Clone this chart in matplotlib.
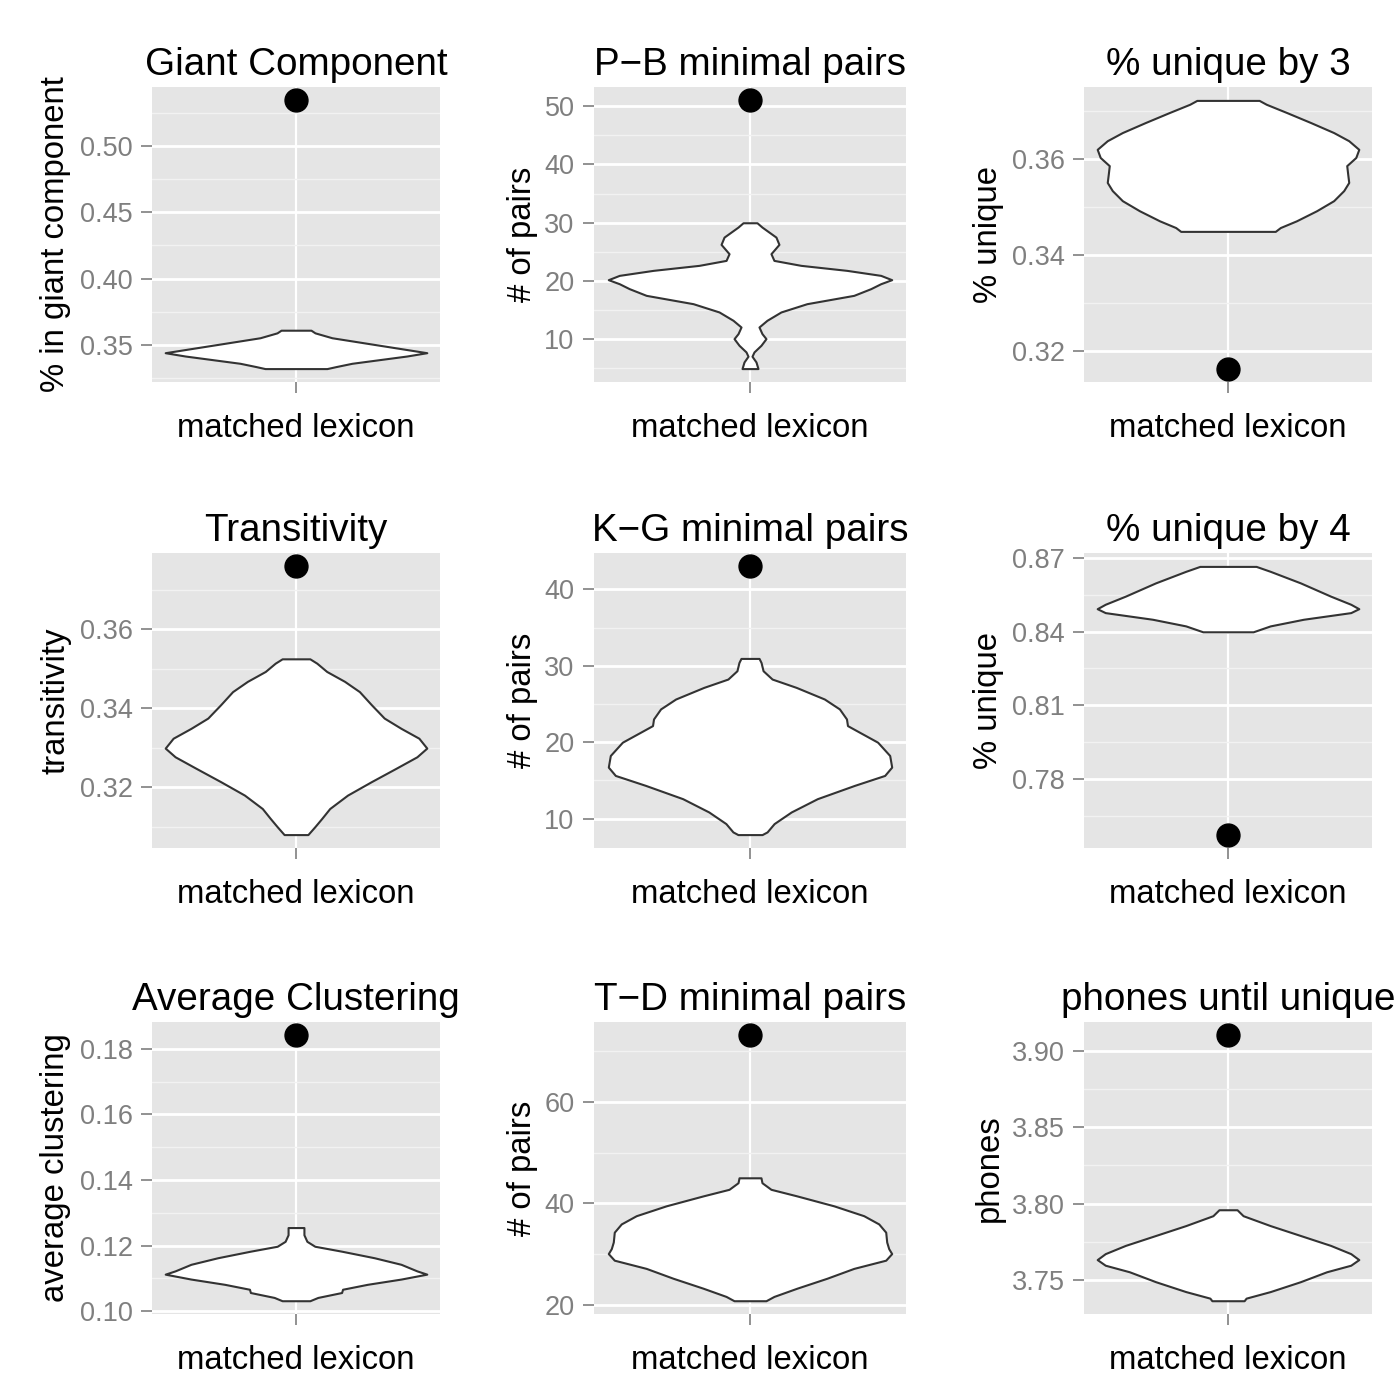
import numpy as np
import matplotlib.pyplot as plt

plt.rcParams['font.family'] = ['Liberation Sans', 'DejaVu Sans']

# panel texts
titles = ['Giant Component', 'P\u2212B minimal pairs', '% unique by 3',
          'Transitivity', 'K\u2212G minimal pairs', '% unique by 4',
          'Average Clustering', 'T\u2212D minimal pairs', 'phones until unique']
ylabels = ['% in giant component', '# of pairs', '% unique',
           'transitivity', '# of pairs', '% unique',
           'average clustering', '# of pairs', 'phones']
xlabel = 'matched lexicon'

# value of the real lexicon (black dot)
observed = [0.5346, 51.0, 0.3163, 0.3759, 43.0, 0.7574, 0.1841, 73.2, 3.9104]

# violin outlines: y levels and relative half widths
giant_y = [0.3610, 0.3590, 0.3553, 0.3503, 0.3465, 0.3440, 0.3415, 0.3385, 0.3360, 0.3335, 0.3320]
giant_w = [15, 19, 36, 78, 110, 131, 111, 81, 56, 40, 31]

pb_y = [30.0, 29.26, 27.54, 26.29, 24.69, 23.54, 22.69, 21.83, 20.97, 20.23, 19.54,
        18.69, 17.54, 16.11, 14.69, 13.26, 12.11, 10.97, 10.11, 8.97, 7.83, 7.09, 6.11, 4.97]
pb_w = [7, 12, 26, 29, 21, 24, 51, 97, 131, 142, 131,
        121, 104, 57, 31, 17, 9, 12, 16, 11, 4, 2, 6, 8]

u3_y = [0.3722, 0.3714, 0.3697, 0.3676, 0.3655, 0.3638, 0.3620, 0.3603, 0.3586,
        0.3568, 0.3551, 0.3534, 0.3513, 0.3492, 0.3471, 0.3457, 0.3449]
u3_w = [31, 38, 58, 82, 105, 120, 130, 127, 118, 119, 120, 115, 105, 88, 68, 52, 47]

trans_y = [0.3525, 0.3514, 0.3493, 0.3468, 0.3442, 0.3409, 0.3375, 0.3349, 0.3324,
           0.3299, 0.3277, 0.3248, 0.3214, 0.3180, 0.3146, 0.3121, 0.3100, 0.3080]
trans_w = [14, 21, 31, 49, 64, 76, 89, 106, 124, 132, 122, 101, 76, 52, 34, 26, 19, 12]

kg_y = [30.96, 30.43, 29.35, 28.26, 27.17, 25.65, 24.35, 23.04, 22.17, 21.30, 20.0,
        18.26, 16.74, 15.65, 14.35, 12.61, 10.87, 9.35, 8.26, 7.91]
kg_w = [9, 11, 13, 22, 46, 74, 89, 96, 97, 109, 127,
        139, 141, 134, 104, 67, 41, 24, 17, 12]

u4_y = [0.8665, 0.8645, 0.8598, 0.8544, 0.8511, 0.8493, 0.8477, 0.8450, 0.8423, 0.8399]
u4_w = [28, 42, 72, 102, 122, 130, 122, 75, 42, 25]

clus_y = [0.1255, 0.1233, 0.1213, 0.1198, 0.1183, 0.1163, 0.1143, 0.1123, 0.1113,
          0.1098, 0.1082, 0.1067, 0.1057, 0.1042, 0.1032]
clus_w = [8, 8, 11, 19, 46, 79, 106, 122, 132, 106, 72, 47, 46, 22, 14]

td_y = [45.07, 44.10, 42.80, 41.50, 39.54, 37.59, 35.97, 34.34, 32.39, 31.09, 30.11,
        28.81, 27.19, 25.24, 23.28, 21.66, 20.81]
td_w = [11, 12, 21, 47, 84, 114, 129, 136, 137, 139, 142,
        136, 104, 77, 47, 24, 16]

ph_y = [3.7959, 3.7920, 3.7855, 3.7790, 3.7725, 3.7671, 3.7632, 3.7595,
        3.7552, 3.7487, 3.7422, 3.7379, 3.7362]
ph_w = [9, 15, 42, 72, 102, 122, 130, 122, 98, 72, 42, 18, 16]

violins = [(giant_y, giant_w), (pb_y, pb_w), (u3_y, u3_w),
           (trans_y, trans_w), (kg_y, kg_w), (u4_y, u4_w),
           (clus_y, clus_w), (td_y, td_w), (ph_y, ph_w)]

yticks = [[0.35, 0.40, 0.45, 0.50], [10, 20, 30, 40, 50], [0.32, 0.34, 0.36],
          [0.32, 0.34, 0.36], [10, 20, 30, 40], [0.78, 0.81, 0.84, 0.87],
          [0.10, 0.12, 0.14, 0.16, 0.18], [20, 40, 60], [3.75, 3.80, 3.85, 3.90]]
tickfmt = ['%.2f', '%d', '%.2f', '%.2f', '%d', '%.2f', '%.2f', '%d', '%.2f']

# layout in pixels
W, H = 1400, 1376
col_px = [(152, 440), (594, 906), (1084, 1372)]
row_px = [(87, 382), (553, 848), (1022, 1314)]
ylab_x = [56, 522, 989]

bg = '#E5E5E5'
grey50 = '#7F7F7F'

fig = plt.figure(figsize=(W/100, H/100), dpi=100)
fig.patch.set_facecolor('white')

for i in range(9):
    r, c = divmod(i, 3)
    l, rr = col_px[c]
    t, b = row_px[r]
    ax = fig.add_axes([l/W, 1 - b/H, (rr - l)/W, (b - t)/H])
    ax.set_facecolor(bg)
    for s in ax.spines.values():
        s.set_visible(False)

    vy = np.array(violins[i][0])
    vw = np.array(violins[i][1], dtype=float)
    vw = 0.545 * vw / vw.max()

    # ggplot style 5% expansion of the data range
    lo = min(vy.min(), observed[i])
    hi = max(vy.max(), observed[i])
    pad = 0.05 * (hi - lo)
    y0, y1 = lo - pad, hi + pad

    tk = yticks[i]
    step = tk[1] - tk[0]
    minors = [v for v in [tk[0] - step/2] + [v + step/2 for v in tk] if y0 < v < y1]
    ax.set_yticks(tk)
    ax.set_yticklabels([tickfmt[i] % v for v in tk])
    ax.set_yticks(minors, minor=True)
    ax.set_xticks([1])
    ax.set_xticklabels([''])
    ax.set_ylim(y0, y1)
    ax.set_xlim(0.4, 1.6)

    ax.grid(which='minor', axis='y', color='#F2F2F2', lw=1.0)
    ax.grid(which='major', axis='y', color='white', lw=2.0)
    ax.grid(which='major', axis='x', color='white', lw=1.6)
    ax.set_axisbelow(True)

    ax.tick_params(which='major', length=8, width=1.2, color=grey50,
                   labelcolor=grey50, labelsize=19.5, pad=6)
    ax.tick_params(which='minor', length=0)

    ax.fill_betweenx(vy, 1 - vw, 1 + vw, facecolor='white',
                     edgecolor='#333333', lw=1.5, zorder=2)
    ax.plot([1], [observed[i]], 'o', color='black', markersize=16.5, zorder=3)

    ax.annotate(titles[i], (0.5, 1), xycoords='axes fraction', xytext=(0, 8.5),
                textcoords='offset points', ha='center', va='baseline',
                fontsize=27.8, color='black')
    ax.annotate(xlabel, (0.5, 0), xycoords='axes fraction', xytext=(0, -39.6),
                textcoords='offset points', ha='center', va='baseline',
                fontsize=23.7, color='black')
    fig.text(ylab_x[c]/W, 1 - (t + b)/2/H, ylabels[i], rotation=90,
             ha='center', va='center', fontsize=23.7, color='black')

fig.savefig('out.png', dpi=100)
